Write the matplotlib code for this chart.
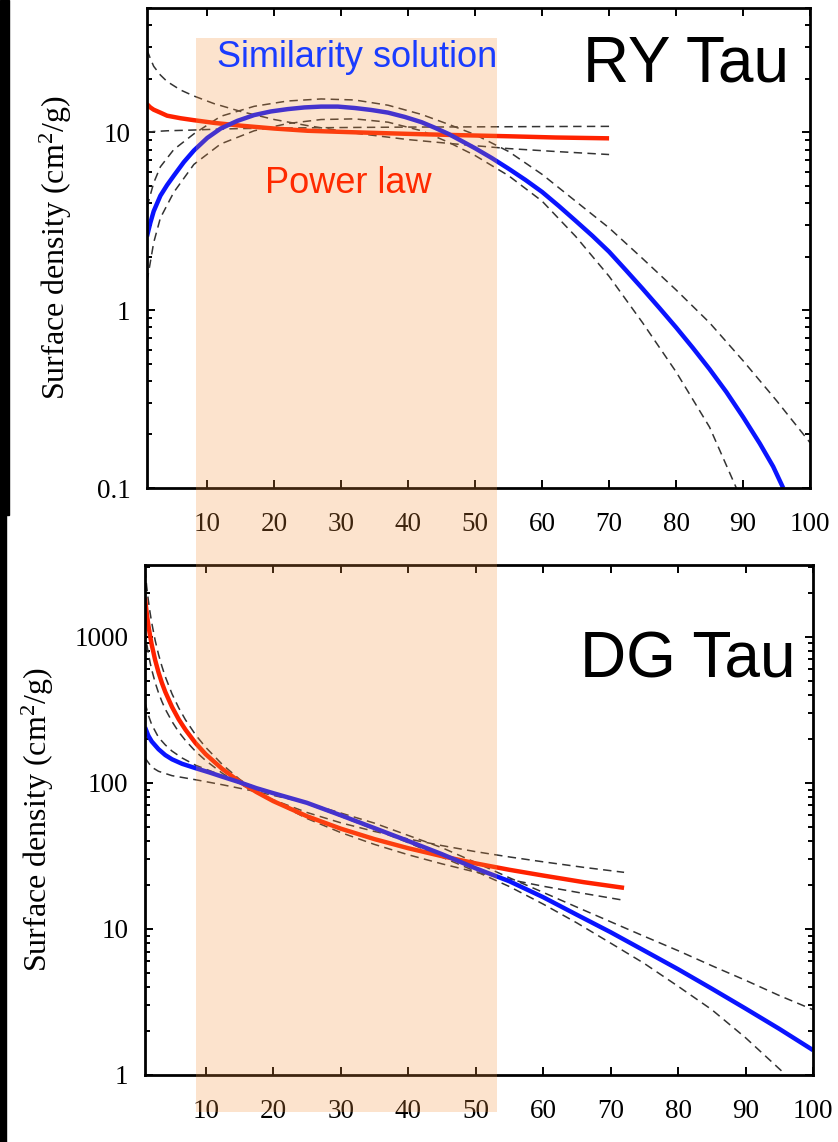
import matplotlib
matplotlib.use("Agg")
import matplotlib.pyplot as plt
from matplotlib.patches import Rectangle
from matplotlib.ticker import LogLocator, NullFormatter

# ---- RY Tau (top panel) ----
ry_pl_r = [1, 1.5, 2, 3, 4, 6, 8, 11, 15, 20, 25, 32, 40, 47, 55, 62, 70]
ry_pl = [14.4, 13.8, 13.4, 12.9, 12.4, 12.0, 11.7, 11.3, 10.9, 10.5, 10.2, 10.0, 9.8, 9.65,
         9.5, 9.35, 9.25]
ry_pl_hi = [29, 26, 23.5, 21, 19.3, 17.3, 16.0, 14.5, 13.1, 11.8, 10.9, 9.9, 9.1, 8.6,
            8.1, 7.8, 7.5]
ry_pl_lo = [10.0, 10.05, 10.1, 10.15, 10.2, 10.25, 10.3, 10.4, 10.5, 10.55, 10.6, 10.65,
            10.7, 10.72, 10.75, 10.78, 10.8]

ry_ss_r = [1, 1.5, 2, 3, 4, 5, 6.5, 8, 10, 12, 14.5, 17, 19.5, 22, 24.5, 27, 29.5, 32, 34.5,
           37, 39.5, 42, 44, 46, 48, 50, 52.5, 55, 57.5, 60, 62.5, 65, 67.5, 70, 72.5, 75,
           77.5, 80, 82.5, 85, 87.5, 90, 92.5, 94.5, 96]
ry_ss = [2.6, 3.1, 3.6, 4.4, 5.05, 5.7, 6.8, 7.9, 9.3, 10.5, 11.6, 12.5, 13.1, 13.5, 13.8,
         13.95, 13.95, 13.7, 13.35, 12.9, 12.2, 11.4, 10.6, 9.8, 8.93, 8.13, 7.16, 6.24, 5.4,
         4.62, 3.85, 3.18, 2.62, 2.13, 1.68, 1.32, 1.03, 0.8, 0.614, 0.466, 0.347, 0.251,
         0.178, 0.132, 0.1]
ry_ss_hi_r = [1, 2, 3, 5, 8, 12, 17, 22, 27, 32, 37, 42, 46, 50, 55, 60, 65, 70, 75, 80, 85,
              90, 95, 100]
ry_ss_hi = [3.8, 5.2, 6.4, 8.0, 9.8, 12.3, 14.0, 15.0, 15.4, 15.2, 14.2, 12.6, 11.1, 9.7, 7.8,
            5.8, 4.1, 2.9, 1.95, 1.3, 0.85, 0.52, 0.31, 0.18]
ry_ss_lo_r = [1, 2, 3, 5, 8, 12, 17, 22, 27, 32, 37, 42, 46, 50, 55, 60, 65, 70, 75, 80, 85, 89]
ry_ss_lo = [1.45, 2.4, 3.3, 4.6, 6.6, 8.6, 10.2, 11.2, 11.8, 11.9, 11.4, 10.2, 8.8, 7.4, 5.7,
            4.1, 2.6, 1.55, 0.85, 0.45, 0.22, 0.1]

# ---- DG Tau (bottom panel) ----
dg_pl_r = [1, 1.25, 1.5, 1.75, 2, 2.5, 3, 3.5, 4, 5, 6, 7, 8.5, 10, 12.5, 15, 17.5, 20, 25,
           30, 35, 40, 45, 50, 55, 60, 66, 72]
dg_pl = [1850, 1457, 1199, 1017, 881, 694, 571, 484, 420, 331, 272, 231, 187, 157, 124, 102,
         86.6, 75.0, 59.1, 48.6, 41.2, 35.7, 31.5, 28.1, 25.4, 23.2, 20.9, 19.1]
dg_pl_hi = [2900, 2209, 1768, 1465, 1245, 948, 759, 629, 534, 407, 326, 270, 213, 175, 133,
            106, 88, 75, 57, 45.7, 37.9, 32.2, 27.9, 24.5, 21.8, 19.6, 17.5, 15.7]
dg_pl_lo = [1100, 902, 767, 668, 594, 487, 414, 361, 320, 263, 223, 195, 164, 142, 116, 98.8,
            86.1, 76.5, 62.7, 53.3, 46.5, 41.3, 37.2, 33.8, 31.1, 28.8, 26.4, 24.4]

dg_ss_r = [1, 1.5, 2, 3, 4, 5, 6.5, 8.5, 10.5, 12.5, 15, 17.5, 20, 25, 30, 35, 40, 45, 50, 55,
           60, 65, 70, 75, 80, 85, 90, 95, 100]
dg_ss = [240, 210, 192, 170, 155, 145, 135, 126, 118, 110, 101, 92, 85, 73, 60, 49, 40, 32.5,
         26, 21.2, 16.5, 12.5, 9.5, 7.1, 5.3, 3.9, 2.85, 2.07, 1.48]
dg_ss_hi_r = [1, 2, 3, 5, 8.5, 12.5, 17, 25, 35, 45, 50, 55, 60, 65, 70, 75, 80, 85, 90, 95, 100]
dg_ss_hi = [148, 128, 120, 112, 105, 97, 88, 73, 53, 36, 28.5, 22.4, 17.8, 14.1, 11.2, 8.9,
            7.1, 5.6, 4.45, 3.5, 2.8]
dg_ss_lo_r = [1, 1.5, 2, 3, 4, 5, 6.5, 8.5, 12.5, 17, 25, 30, 35, 40, 45, 50, 55, 60, 65, 70,
              75, 80, 85, 90, 95.5]
dg_ss_lo = [355, 290, 250, 205, 182, 165, 148, 132, 112, 95, 72, 59, 48, 39, 31, 24.8, 19.5,
            14.8, 11.0, 8.0, 5.8, 4.05, 2.8, 1.8, 1.05]

xticks = [10, 20, 30, 40, 50, 60, 70, 80, 90, 100]

plt.rcParams['mathtext.fontset'] = 'custom'
plt.rcParams['mathtext.rm'] = 'Liberation Serif'
plt.rcParams['mathtext.it'] = 'Liberation Serif:italic'

BLUE = '#0a14ff'
RED = '#ff2200'
DASH = dict(color='#333333', lw=1.1, ls=(0, (5.5, 3.5)))

fig = plt.figure(figsize=(8.38, 11.42), dpi=100)
ax1 = fig.add_axes([147/838, 1 - 488/1142, 663/838, 480/1142])
ax2 = fig.add_axes([145/838, 1 - 1075/1142, 668/838, 510/1142])


def style_axis(ax, ymin, ymax, yticks):
    ax.set_yscale('log')
    ax.set_xlim(1, 100)
    ax.set_ylim(ymin, ymax)
    ax.set_xticks(xticks)
    ax.set_xticklabels([str(t) for t in xticks])
    ax.set_yticks(yticks)
    ax.set_yticklabels([('%g' % t) for t in yticks])
    ax.yaxis.set_minor_locator(LogLocator(base=10, subs=range(2, 10)))
    ax.yaxis.set_minor_formatter(NullFormatter())
    ax.tick_params(which='both', direction='in', top=True, right=True, width=1.4,
                   labelsize=19.5, labelfontfamily='Liberation Serif', colors='black')
    ax.tick_params(which='major', length=6)
    ax.tick_params(which='minor', length=3.5)
    ax.tick_params(axis='x', pad=17)
    ax.tick_params(axis='y', pad=12)
    for s in ax.spines.values():
        s.set_linewidth(2)


# top panel
ax1.plot(ry_pl_r, ry_pl_hi, **DASH)
ax1.plot(ry_pl_r, ry_pl_lo, **DASH)
ax1.plot(ry_ss_hi_r, ry_ss_hi, **DASH)
ax1.plot(ry_ss_lo_r, ry_ss_lo, **DASH)
ax1.plot(ry_pl_r, ry_pl, color=RED, lw=3.2, solid_capstyle='butt')
ax1.plot(ry_ss_r, ry_ss, color=BLUE, lw=3.2, solid_capstyle='butt')
style_axis(ax1, 0.1, 50, [0.1, 1, 10])

# bottom panel
ax2.plot(dg_pl_r, dg_pl_hi, **DASH)
ax2.plot(dg_pl_r, dg_pl_lo, **DASH)
ax2.plot(dg_ss_hi_r, dg_ss_hi, **DASH)
ax2.plot(dg_ss_lo_r, dg_ss_lo, **DASH)
ax2.plot(dg_pl_r, dg_pl, color=RED, lw=3.2, solid_capstyle='butt')
ax2.plot(dg_ss_r, dg_ss, color=BLUE, lw=3.2, solid_capstyle='butt')
style_axis(ax2, 1, 3100, [1, 10, 100, 1000])

# y labels (placed by baseline)
ylab = 'Surface density (cm$^2$/g)'
fig.text(65/838, 1 - 248/1142, ylab, rotation=90, rotation_mode='anchor', ha='center',
         va='baseline', fontsize=23, family='Liberation Serif')
fig.text(47/838, 1 - 820/1142, ylab, rotation=90, rotation_mode='anchor', ha='center',
         va='baseline', fontsize=23, family='Liberation Serif')

# black strips on the left edge
fig.patches.append(Rectangle((0, 1 - 515/1142), 9/838, 515/1142, transform=fig.transFigure,
                             color='black', zorder=1))
fig.patches.append(Rectangle((0, 0), 6/838, 1 - 515/1142, transform=fig.transFigure,
                             color='black', zorder=1))

# shaded band across both panels
fig.patches.append(Rectangle((196/838, 1 - 1112/1142), 301/838, 1074/1142,
                             transform=fig.transFigure, color='#f7933b', alpha=0.25,
                             lw=0, zorder=2))

fig.text(217/838, 1 - 67/1142, 'Similarity solution', color='#1a3cff', fontsize=26,
         family='Liberation Sans', ha='left', va='baseline', zorder=5)
fig.text(265/838, 1 - 193/1142, 'Power law', color='#ff2a00', fontsize=26,
         family='Liberation Sans', ha='left', va='baseline', zorder=5)
fig.text(583/838, 1 - 82/1142, 'RY Tau', color='black', fontsize=46,
         family='Liberation Sans', ha='left', va='baseline', zorder=5)
fig.text(580/838, 1 - 678/1142, 'DG Tau', color='black', fontsize=46,
         family='Liberation Sans', ha='left', va='baseline', zorder=5)

fig.savefig('out.png', dpi=100)
